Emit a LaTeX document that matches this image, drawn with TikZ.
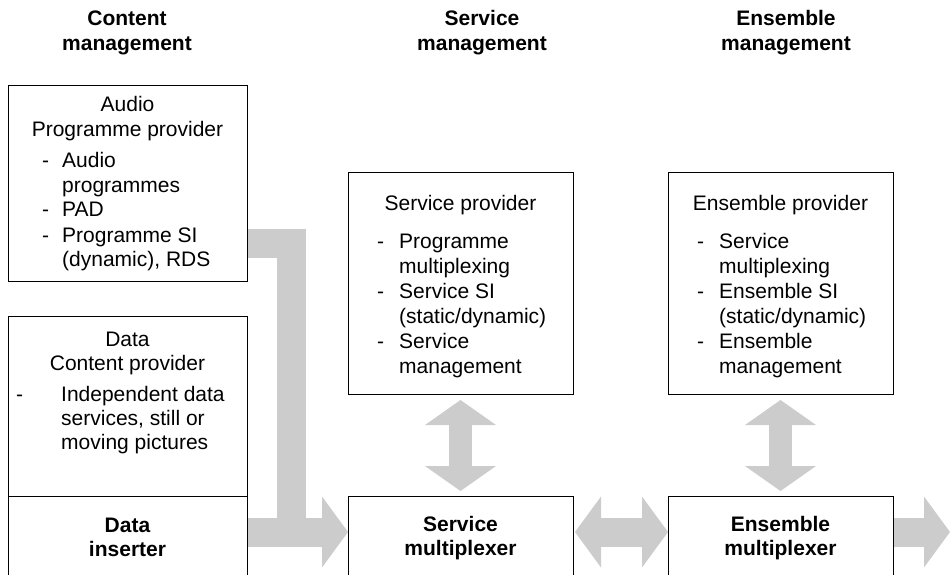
\documentclass[tikz,border=0pt]{standalone}
\usepackage{fontspec}
\setmainfont{Liberation Sans}
\usetikzlibrary{positioning,arrows.meta,calc,backgrounds}
\definecolor{flowgray}{HTML}{CCCCCC}
\tikzset{
  box/.style={draw, line width=0.9pt, outer sep=0pt, inner sep=0pt, anchor=north west},
  txt/.style={inner sep=0pt, anchor=base, font=\fontsize{21}{24.5}\selectfont},
  lst/.style={txt, anchor=base west, font=\fontsize{21}{25}\selectfont},
  head/.style={txt, font=\fontsize{21}{24.5}\selectfont\bfseries},
  flow/.style={line width=29pt, flowgray, -{Triangle[length=26pt, width=71pt, line width=0pt]}},
  dflow/.style={flow, {Triangle[length=26pt, width=71pt, line width=0pt]}-{Triangle[length=26pt, width=71pt, line width=0pt]}},
  vflow/.style={line width=23pt, flowgray, {Triangle[length=25pt, width=71pt, line width=0pt]}-{Triangle[length=25pt, width=71pt, line width=0pt]}},
  feed/.style={line width=29pt, flowgray},
}

\begin{document}
\begin{tikzpicture}[x=1pt, y=-1pt]
  \useasboundingbox (0,0) rectangle (950,575);

  % column headings
  \node[head] (hcont) at (127,26) {\begin{tabular}[t]{@{}c@{}}Content\\management\end{tabular}};
  \node[head] (hserv) at (482,26) {\begin{tabular}[t]{@{}c@{}}Service\\management\end{tabular}};
  \node[head] (hens) at (786,26) {\begin{tabular}[t]{@{}c@{}}Ensemble\\management\end{tabular}};

  % content side
  \node[box, minimum width=239pt, minimum height=196pt] (audio) at (8,85) {};
  \node[txt] (audiot) at (127.5,112) {\begin{tabular}[t]{@{}c@{}}Audio\\Programme provider\end{tabular}};
  \node[lst] (audiol) at (42,167) {\begin{tabular}[t]{@{}p{20pt}@{}l@{}}
    - & Audio\\ & programmes\\ - & PAD\\ - & Programme SI\\ & (dynamic), RDS\end{tabular}};

  \node[box, minimum width=239pt, minimum height=180pt] (dcont) at (8,316) {};
  \node[txt] (dcontt) at (127.5,346) {\begin{tabular}[t]{@{}c@{}}Data\\Content provider\end{tabular}};
  \node[lst, font=\fontsize{21}{24}\selectfont] (dcontl) at (16,401) {\begin{tabular}[t]{@{}p{45pt}@{}l@{}}
    - & Independent data\\ & services, still or\\ & moving pictures\end{tabular}};

  \node[box, minimum width=239pt, minimum height=110pt] (dins) at (8,496) {};
  \node[head] (dinst) at (127.5,532) {\begin{tabular}[t]{@{}c@{}}Data\\inserter\end{tabular}};

  % service side
  \node[box, minimum width=225pt, minimum height=222pt] (sprov) at (348,172) {};
  \node[txt] (sprovt) at (460.5,210) {Service provider};
  \node[lst] (sprovl) at (377,248) {\begin{tabular}[t]{@{}p{22pt}@{}l@{}}
    - & Programme\\ & multiplexing\\ - & Service SI\\ & (static/dynamic)\\ - & Service\\ & management\end{tabular}};

  \node[box, minimum width=225pt, minimum height=110pt] (smux) at (348,496) {};
  \node[head] (smuxt) at (460.5,531) {\begin{tabular}[t]{@{}c@{}}Service\\multiplexer\end{tabular}};

  % ensemble side
  \node[box, minimum width=225pt, minimum height=222pt, right=95pt of sprov.north east, anchor=north west] (eprov) {};
  \node[txt] (eprovt) at (780.5,210) {Ensemble provider};
  \node[lst] (eprovl) at (697,248) {\begin{tabular}[t]{@{}p{22pt}@{}l@{}}
    - & Service\\ & multiplexing\\ - & Ensemble SI\\ & (static/dynamic)\\ - & Ensemble\\ & management\end{tabular}};

  \node[box, minimum width=225pt, minimum height=110pt, right=95pt of smux.north east, anchor=north west] (emux) {};
  \node[head] (emuxt) at (780.5,531) {\begin{tabular}[t]{@{}c@{}}Ensemble\\multiplexer\end{tabular}};

  \coordinate (join) at (291,518);
  \coordinate (exit) at (950,532);

  \begin{scope}[on background layer]
    \draw[feed] ([yshift=-158.5pt]audio.north east) -| (join);
    \draw[flow] ([yshift=-36pt]dins.north east) -- ([yshift=-36pt]smux.north west);
    \draw[dflow, shorten <=2pt] ([yshift=-36pt]smux.north east) -- ([yshift=-36pt]emux.north west);
    \draw[flow] ([yshift=-36pt]emux.north east) -- (exit);
    \draw[vflow, shorten <=6pt, shorten >=5pt] (sprov.south) -- (smux.north);
    \draw[vflow, shorten <=6pt, shorten >=5pt] (eprov.south) -- (emux.north);
  \end{scope}
\end{tikzpicture}
\end{document}
